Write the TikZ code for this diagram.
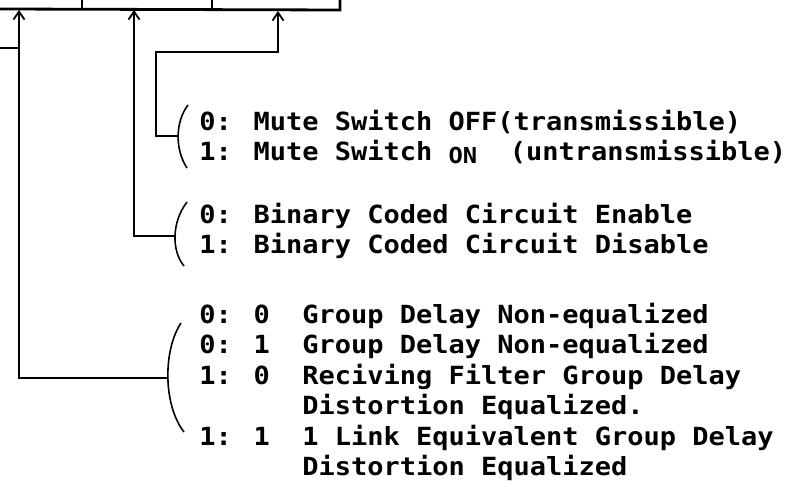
\documentclass[tikz,border=0pt]{standalone}
\usepackage{fontspec}
\newfontfamily\panelfont[FakeStretch=1.08]{DejaVu Sans Mono}
\usetikzlibrary{arrows.meta}

\begin{document}
\begin{tikzpicture}[
        x=0.5pt, y=-0.5pt,
        % --- Line styles ---
        wire/.style={line width=0.9pt},
        bitwire/.style={wire, -{Straight Barb[length=4pt, width=5.5pt]}},
        frame/.style={line width=1.4pt},
        brace/.style={line width=0.8pt},
        % --- Text styles ---
        desc/.style={
            anchor=base west, inner sep=0pt,
            font=\panelfont\bfseries\fontsize{12.5}{15}\selectfont
        },
    ]
    \useasboundingbox (0,0) rectangle (790,497);
    \clip (0,0) rectangle (790,497);

    % ===== Register cells (cut off at the top) =====
    \draw[frame] (0,9) -- (340,10) -- (340,-20);
    \draw[frame] (82,-20) -- (82,9);
    \draw[frame] (212,-20) -- (212,10);
    \node[desc, anchor=base] (mutecell) at (276,0) {MUTE};

    % ===== Bit inputs on the register =====
    \coordinate (gd bit)   at (19,10);
    \coordinate (bcc bit)  at (134,10);
    \coordinate (mute bit) at (278,11);
    \coordinate (left stub) at (0,48);

    % ===== Brace tips =====
    \coordinate (mute tip) at (178,136);
    \coordinate (bcc tip)  at (176,236);
    \coordinate (gd tip)   at (167,378);

    % ===== Braces =====
    \draw[brace] (188,105) .. controls (175,122) and (175,150) .. (187,168);
    \draw[brace] (187,202) .. controls (171.5,222) and (171.5,251) .. (184,266);
    \draw[brace] (181,323) .. controls (163,350) and (163,405) .. (184,432);

    % ===== Wires =====
    \draw[bitwire] (mute tip) -| (156,52) -| (mute bit);
    \draw[bitwire] (bcc tip) -| (bcc bit);
    \draw[bitwire] (gd tip) -| (gd bit);
    \draw[wire] (left stub) -- (gd bit |- left stub);

    % ===== Mute bit =====
    \node[desc] (mute0) at (199,131) {0: Mute Switch OFF(transmissible)};
    \node[desc] (mute1) at (199,161) {1: Mute Switch \raisebox{-1.5pt}{\fontsize{11}{13}\selectfont ON}\ \ (untransmissible)};

    % ===== Binary coded circuit bit =====
    \node[desc] (bcc0) at (199,223) {0: Binary Coded Circuit Enable};
    \node[desc] (bcc1) at (199,253) {1: Binary Coded Circuit Disable};

    % ===== Group delay bits =====
    \node[desc] (gd00)  at (199,323) {0: 0\ \ Group Delay Non-equalized};
    \node[desc] (gd01)  at (199,353) {0: 1\ \ Group Delay Non-equalized};
    \node[desc] (gd10)  at (199,384) {1: 0\ \ Reciving Filter Group Delay};
    \node[desc] (gd10b) at (199,414) {\phantom{1: 0\ \ }Distortion Equalized.};
    \node[desc] (gd11)  at (199,445) {1: 1\ \ 1 Link Equivalent Group Delay};
    \node[desc] (gd11b) at (199,475) {\phantom{1: 1\ \ }Distortion Equalized};

    \end{tikzpicture}
\end{document}
